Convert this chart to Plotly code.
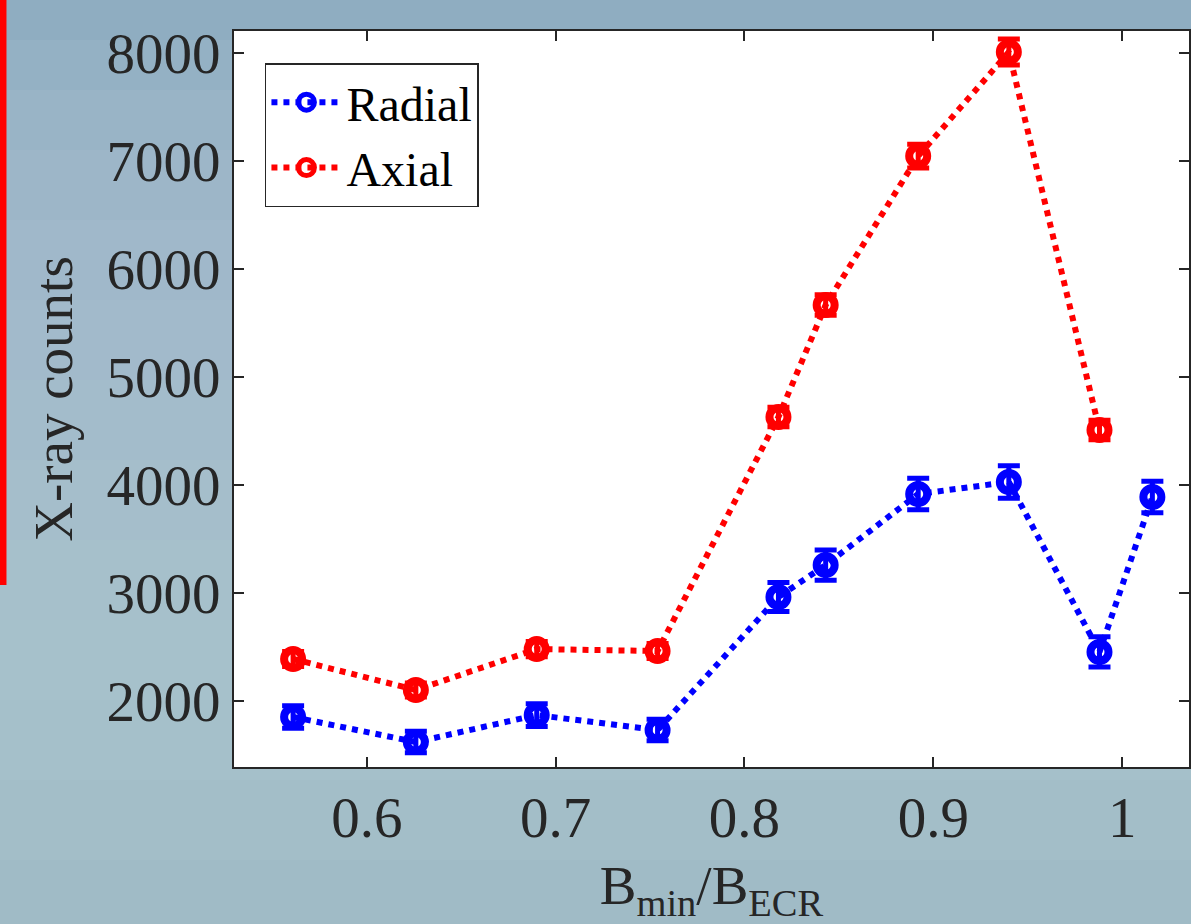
import plotly.graph_objects as go

# ---- data ----
b_ratio_radial = [0.561, 0.626, 0.690, 0.754, 0.818, 0.843, 0.892, 0.940, 0.988, 1.016]
radial_counts = [1852, 1620, 1870, 1731, 2963, 3259, 3917, 4028, 2454, 3889]
radial_err = [105, 100, 105, 100, 135, 140, 145, 150, 140, 145]

b_ratio_axial = [0.561, 0.626, 0.690, 0.754, 0.818, 0.843, 0.892, 0.940, 0.988]
axial_counts = [2389, 2102, 2481, 2463, 4630, 5667, 7046, 8009, 4509]
axial_err = [70, 65, 70, 70, 90, 95, 110, 120, 90]

x_tickvals = [0.6, 0.7, 0.8, 0.9, 1.0]
x_ticktext = ["0.6", "0.7", "0.8", "0.9", "1"]
y_tickvals = [2000, 3000, 4000, 5000, 6000, 7000, 8000]
y_ticktext = ["2000", "3000", "4000", "5000", "6000", "7000", "8000"]

W, H = 1191, 924
ML, MR, MT, MB = 234, 0, 31, 157
PW, PH = W - ML - MR, H - MT - MB

FONT = "Liberation Serif, Times New Roman, serif"
AXC = "#262626"

fig = go.Figure()

def add_series(x, y, err, color, name):
    fig.add_trace(go.Scatter(
        x=x, y=y, name=name, mode="lines+markers",
        line=dict(color=color, width=6, dash="dot"),
        marker=dict(symbol="circle-open", size=18, color=color,
                    line=dict(color=color, width=8)),
        error_y=dict(type="data", array=err, visible=True, color=color,
                     thickness=5, width=11),
    ))

add_series(b_ratio_radial, radial_counts, radial_err, "#0000ff", "Radial")
add_series(b_ratio_axial, axial_counts, axial_err, "#ff0000", "Axial")

# ---- background (approximate photo texture with horizontal bands) ----
def py(pix):
    return (H - MB - pix) / PH

def px(pix):
    return (pix - ML) / PW

bands = [
    (-20, 40, "#8fadc1"),
    (40, 90, "#94b1c4"),
    (90, 150, "#99b4c6"),
    (150, 220, "#9db6c8"),
    (220, 300, "#a0b8ca"),
    (300, 380, "#a2bacb"),
    (380, 460, "#a3bccb"),
    (460, 540, "#a5becb"),
    (540, 620, "#a6c0cb"),
    (620, 700, "#a6c1cb"),
    (700, 780, "#a5c0ca"),
    (780, 860, "#a3bec8"),
    (860, 950, "#a0bbc6"),
]
shapes = []
for y0, y1, c in bands:
    shapes.append(dict(type="rect", xref="paper", yref="paper",
                       x0=px(-20), x1=px(W + 20), y0=py(y1), y1=py(y0),
                       fillcolor=c, line=dict(width=0), layer="below"))
# red accent bar on the left edge
shapes.append(dict(type="rect", xref="paper", yref="paper",
                   x0=px(-20), x1=px(6), y0=py(585), y1=py(-20),
                   fillcolor="#ff0000", line=dict(width=0), layer="below"))
# white plot area
shapes.append(dict(type="rect", xref="paper", yref="paper",
                   x0=0, x1=1, y0=0, y1=1,
                   fillcolor="#ffffff", line=dict(width=0), layer="below"))

fig.update_layout(
    width=W, height=H,
    margin=dict(l=ML, r=MR, t=MT, b=MB),
    paper_bgcolor="#a2bcc9",
    plot_bgcolor="#ffffff",
    shapes=shapes,
    font=dict(family=FONT, color=AXC, size=56),
    showlegend=True,
    legend=dict(
        x=px(265), y=py(63), xanchor="left", yanchor="top",
        bgcolor="#ffffff", bordercolor=AXC, borderwidth=1.5,
        font=dict(family=FONT, size=48, color="#000000"),
        itemwidth=70, tracegroupgap=0,
    ),
    xaxis=dict(
        range=[0.5297, 1.0354],
        tickvals=x_tickvals, ticktext=x_ticktext,
        ticks="inside", ticklen=10, tickwidth=2, tickcolor=AXC,
        showline=True, linecolor=AXC, linewidth=2, mirror="allticks",
        showgrid=False, zeroline=False,
        tickfont=dict(family=FONT, size=57, color=AXC),
        title=dict(text="B<sub>min</sub>/B<sub>ECR</sub>",
                   font=dict(family=FONT, size=55, color=AXC), standoff=18),
    ),
    yaxis=dict(
        range=[1389, 8204],
        tickvals=y_tickvals, ticktext=y_ticktext,
        ticks="inside", ticklen=10, tickwidth=2, tickcolor=AXC,
        showline=True, linecolor=AXC, linewidth=2, mirror="allticks",
        showgrid=False, zeroline=False,
        tickfont=dict(family=FONT, size=57, color=AXC),
        title=dict(text="X-ray counts",
                   font=dict(family=FONT, size=55, color=AXC), standoff=16),
    ),
)

fig.write_html("out.html")
